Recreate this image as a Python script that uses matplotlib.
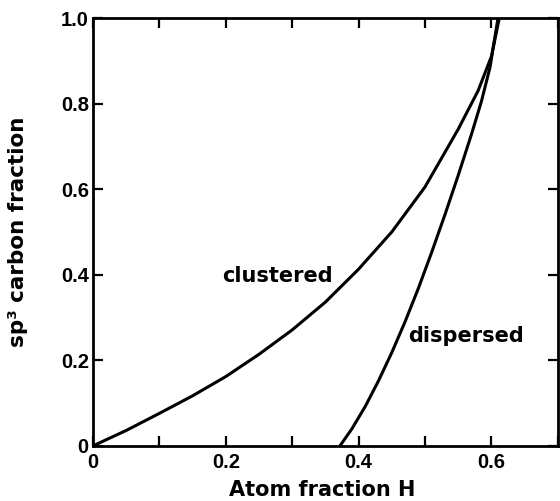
#!/usr/bin/env python3
"""sp3 carbon fraction vs atom fraction H: clustered vs dispersed models."""

import matplotlib
matplotlib.use("Agg")
import matplotlib.pyplot as plt

# curves
clustered_x = [0.0, 0.05, 0.10, 0.15, 0.20, 0.25, 0.30, 0.35, 0.40, 0.45,
               0.50, 0.55, 0.58, 0.60, 0.612]
clustered_y = [0.0, 0.036, 0.076, 0.117, 0.162, 0.214, 0.271, 0.336, 0.413,
               0.50, 0.605, 0.74, 0.83, 0.91, 1.0]

dispersed_x = [0.372, 0.39, 0.41, 0.43, 0.45, 0.47, 0.49, 0.51, 0.53, 0.55,
               0.57, 0.585, 0.598, 0.61]
dispersed_y = [0.0, 0.040, 0.092, 0.152, 0.218, 0.29, 0.368, 0.452, 0.54,
               0.632, 0.728, 0.805, 0.885, 1.0]

x_ticks = [0.0, 0.1, 0.2, 0.3, 0.4, 0.5, 0.6, 0.7]
x_tick_labels = ["0", "", "0.2", "", "0.4", "", "0.6", ""]
y_ticks = [0.0, 0.2, 0.4, 0.6, 0.8, 1.0]
y_tick_labels = ["0", "0.2", "0.4", "0.6", "0.8", "1.0"]

plt.rcParams["font.family"] = ["DejaVu Sans"]

fig = plt.figure(figsize=(5.6, 5.01), dpi=100)
ax = fig.add_axes([0.166, 0.110, 0.830, 0.854])

ax.plot(clustered_x, clustered_y, color="black", lw=2.2, solid_capstyle="round")
ax.plot(dispersed_x, dispersed_y, color="black", lw=2.2, solid_capstyle="round")

ax.text(0.195, 0.397, "clustered", fontsize=15, fontweight="bold", va="center")
ax.text(0.474, 0.257, "dispersed", fontsize=15, fontweight="bold", va="center")

ax.set_xlim(0, 0.7)
ax.set_ylim(0, 1.0)

ax.set_xticks(x_ticks)
ax.set_xticklabels(x_tick_labels)
ax.set_yticks(y_ticks)
ax.set_yticklabels(y_tick_labels)

ax.tick_params(axis="both", direction="in", length=7, width=1.6,
               labelsize=14.5, top=True, right=True)
ax.tick_params(axis="x", pad=5)
ax.tick_params(axis="y", pad=3)
for lab in ax.get_xticklabels() + ax.get_yticklabels():
    lab.set_fontweight("bold")
    lab.set_family("Liberation Sans")

for spine in ax.spines.values():
    spine.set_linewidth(2.0)

ax.set_xlabel("Atom fraction H", fontsize=15, fontweight="bold")
ax.set_ylabel("sp³ carbon fraction", fontsize=15.5, fontweight="bold")
ax.xaxis.set_label_coords(0.494, -0.08)
ax.yaxis.set_label_coords(-0.14, 0.5)

fig.savefig("out.png", dpi=100, facecolor="white")
